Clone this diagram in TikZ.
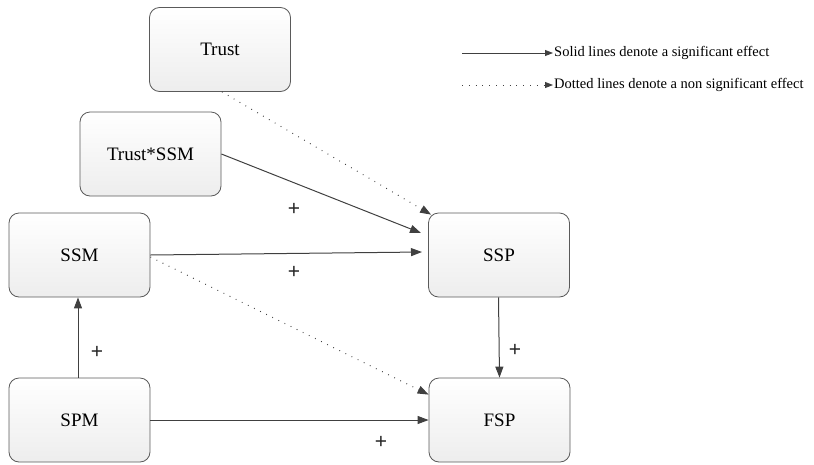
\documentclass[tikz,border=0pt]{standalone}
\usepackage{fontspec}
\setmainfont{Liberation Serif}
\newfontfamily\boxfont{Liberation Serif}
\newfontfamily\plusfont{Liberation Sans}
\usetikzlibrary{arrows.meta}
\definecolor{linec}{HTML}{404040}
\definecolor{boxc}{HTML}{5A5A5A}
\tikzset{
  boxnode/.style={draw=boxc, line width=0.8pt, rounded corners=10pt, minimum width=141pt, minimum height=84pt,
    top color=white, bottom color=black!7, font=\boxfont\fontsize{19}{22}\selectfont, inner sep=0pt},
  sig/.style={draw=linec, line width=1pt, -{Triangle[length=11pt,width=8pt]}},
  nsig/.style={draw=linec, line width=1pt, dash pattern=on 0.8pt off 6pt, -{Triangle[length=11pt,width=8pt]}},
  lsig/.style={draw=linec, line width=0.9pt, -{Triangle[length=8pt,width=6pt]}},
  lnsig/.style={draw=linec, line width=0.9pt, dash pattern=on 0.8pt off 6pt, -{Triangle[length=8pt,width=6pt]}},
  plus/.style={font=\plusfont\fontsize{21}{22}\selectfont, text=black!85},
  legend/.style={font=\boxfont\fontsize{14.5}{16}\selectfont, anchor=west, inner sep=1pt}
}
\begin{document}
\begin{tikzpicture}[x=1pt,y=-1pt]
\useasboundingbox (0,0) rectangle (814,464);
\node[boxnode] (trust) at (220,49.5) {Trust};
\node[boxnode] (tssm) at (150.5,154) {Trust*SSM};
\node[boxnode] (ssm) at (79.5,255) {SSM};
\node[boxnode] (spm) at (79.5,420) {SPM};
\node[boxnode] (ssp) at (499,255) {SSP};
\node[boxnode] (fsp) at (499.5,420) {FSP};

\coordinate (sspA) at (421,233);
\coordinate (sspB) at (422,252);
\draw[nsig] ([xshift=2pt]trust.south) -- ([xshift=3pt,yshift=-2pt]ssp.north west);
\draw[sig] (tssm.east) -- (sspA);
\draw[sig] (ssm.east) -- (sspB);
\draw[nsig] ([yshift=-2pt]ssm.east) -- ([yshift=-17pt]fsp.north west);
\draw[sig] ([xshift=-1.5pt]spm.north) -- ([xshift=-1.5pt]ssm.south);
\draw[sig] (spm.east) -- (fsp.west);
\draw[sig] ([xshift=-0.5pt]ssp.south) -- (fsp.north);

\node[plus] (p1) at (294,209) {+};
\node[plus] (p2) at (294,272) {+};
\node[plus] (p3) at (97,352) {+};
\node[plus] (p4) at (515,350) {+};
\node[plus] (p5) at (381,442) {+};

\coordinate (l1) at (462,53);
\coordinate (l2) at (462,85);
\node[legend] (t1) at (553,53) {Solid lines denote a significant effect};
\node[legend] (t2) at (553,85) {Dotted lines denote a non significant effect};
\draw[lsig] (l1) -- (t1.west);
\draw[lnsig] (l2) -- (t2.west);
\end{tikzpicture}
\end{document}
